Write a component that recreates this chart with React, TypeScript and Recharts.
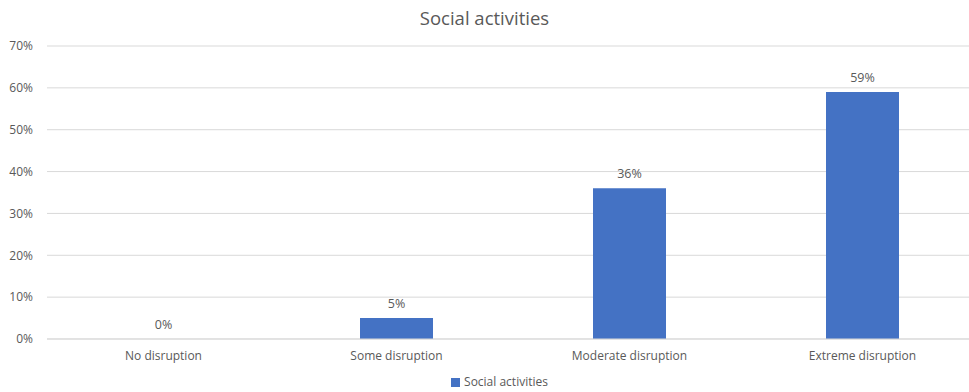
import React from "react";
import {Bar, CartesianGrid, ComposedChart, LabelList, Legend, Line, XAxis, YAxis} from "recharts";

const categories = ["No disruption", "Some disruption", "Moderate disruption", "Extreme disruption"];
const socialActivities = [0, 0.05, 0.36, 0.59];
const yTicks = [0, 0.1, 0.2, 0.3, 0.4, 0.5, 0.6, 0.7];

const data = categories.map((name, i) => ({name, value: socialActivities[i]}));

const font = '"Open Sans", sans-serif';
const textColor = '#595959';
const pct = (v: number) => `${Math.round(v * 100)}%`;

const App = () => {
    return (
        <div style={{position: 'absolute', left: 0, top: 0, width: 969, height: 392, overflow: 'hidden', background: '#fff', fontFamily: font}}>
            <div style={{position: 'absolute', top: 5, width: 969, textAlign: 'center', fontSize: 18.5, color: textColor}}>
                Social activities
            </div>
            <ComposedChart
                width={980}
                height={392}
                data={data}
                margin={{top: 46, right: 1, bottom: 0, left: 0}}
                barCategoryGap={80}
            >
                <CartesianGrid vertical={false} stroke="#d9d9d9"/>
                <XAxis dataKey="name"
                       axisLine={{stroke: '#d9d9d9'}}
                       tickLine={false}
                       tickMargin={6}
                       interval={0}
                       height={36}
                       tick={{fill: textColor, fontSize: 12, fontFamily: font}}
                />
                <YAxis domain={[0, 0.7]}
                       ticks={yTicks}
                       tickFormatter={pct}
                       axisLine={false}
                       tickLine={false}
                       tickMargin={8}
                       width={47}
                       tick={{fill: textColor, fontSize: 12, fontFamily: font}}
                />
                <Legend verticalAlign="bottom"
                        iconType="square"
                        iconSize={9}
                        wrapperStyle={{fontSize: 12, fontFamily: font, color: textColor, left: 20, width: 969, bottom: 2}}
                        formatter={() => <span style={{color: textColor}}>Social activities</span>}
                />
                <Bar dataKey="value" name="Social activities" fill="#4472c4" barSize={73} isAnimationActive={false}/>
                {/* invisible series only to carry the data labels (the 0% bar has no rectangle) */}
                <Line dataKey="value" stroke="none" dot={false} activeDot={false} legendType="none" isAnimationActive={false}>
                    <LabelList dataKey="value" position="top" offset={10} formatter={(v: any) => pct(Number(v))}
                               style={{fill: textColor, fontSize: 12.5, fontFamily: font}}/>
                </Line>
            </ComposedChart>
        </div>
    )
}
export default App;
